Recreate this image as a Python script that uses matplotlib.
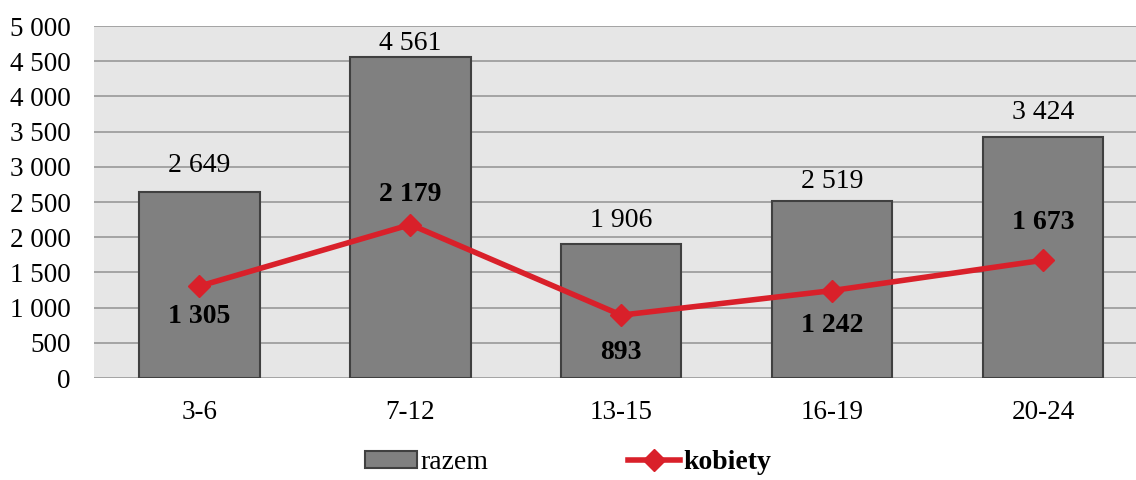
import matplotlib
matplotlib.use("Agg")
import matplotlib.pyplot as plt
from matplotlib.ticker import FuncFormatter

categories = ["3-6", "7-12", "13-15", "16-19", "20-24"]
razem = [2649, 4561, 1906, 2519, 3424]
kobiety = [1305, 2179, 893, 1242, 1673]
yticks = [0, 500, 1000, 1500, 2000, 2500, 3000, 3500, 4000, 4500, 5000]

# label offsets (points) - styling only
razem_off = [18.7, 10, 16.5, 13.7, 17.3]
kobiety_off = [-22, 22, -27, -25, 27]

plt.rcParams['font.family'] = ['Liberation Serif', 'DejaVu Serif']

def fmt(v):
    return f"{int(v):,}".replace(",", " ")

fig = plt.figure(figsize=(11.36, 4.8), dpi=100)
ax = fig.add_axes([94/1136, 1-378/480, 1-94/1136, 352/480])
ax.set_facecolor("#e6e6e6")
x = list(range(len(categories)))
bars = ax.bar(x, razem, width=0.57, color="#808080", edgecolor="#404040", linewidth=1.5, zorder=3, label="razem")
line, = ax.plot(x, kobiety, color="#d9202a", linewidth=4, marker="D", markersize=11, zorder=4, label="kobiety")
ax.set_xlim(-0.5, 4.44)
ax.set_ylim(0, 5000)
ax.set_yticks(yticks)
ax.yaxis.set_major_formatter(FuncFormatter(lambda v, p: fmt(v)))
ax.set_xticks(x)
ax.set_xticklabels(categories)
ax.grid(axis="y", color="#999999", linewidth=1.2, zorder=0)
ax.set_axisbelow(True)
for s in ax.spines.values():
    s.set_visible(False)
ax.tick_params(axis="both", length=0, labelsize=19.5)
ax.tick_params(axis="x", pad=16)
ax.tick_params(axis="y", pad=17)

for i, (v, o) in enumerate(zip(razem, razem_off)):
    ax.annotate(fmt(v), (i, v), xytext=(0, o), textcoords="offset points",
                ha="center", va="center", fontsize=20)

for i, (v, o) in enumerate(zip(kobiety, kobiety_off)):
    ax.annotate(fmt(v), (i, v), xytext=(0, o), textcoords="offset points",
                ha="center", va="center", fontsize=20, fontweight="bold")

leg = fig.legend([bars, line], ["razem", "kobiety"], loc="center", bbox_to_anchor=(0.5, 0.036), ncol=2, frameon=False,
                 fontsize=20, columnspacing=5.0, handlelength=1.9, handleheight=0.55, handletextpad=0.12)
for t in leg.get_texts():
    if t.get_text() == "kobiety":
        t.set_fontweight("bold")

fig.savefig("out.png", dpi=100)
